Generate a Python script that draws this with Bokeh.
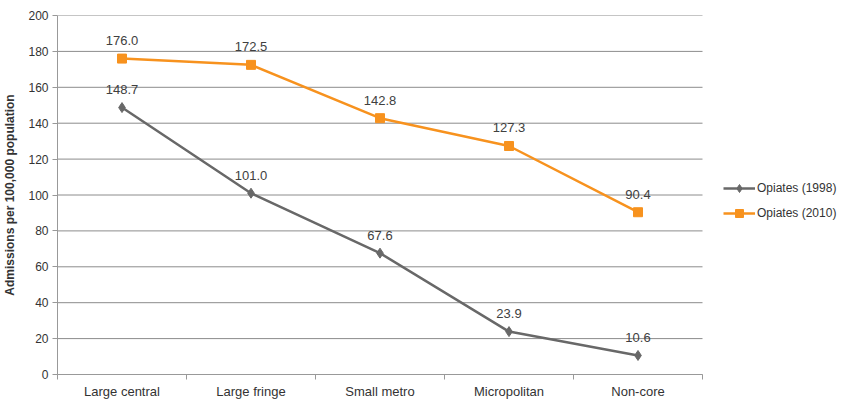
from bokeh.plotting import figure
from bokeh.models import FixedTicker, Range1d, Legend, LegendItem, ColumnDataSource
from bokeh.embed import file_html
from bokeh.resources import INLINE
from bokeh.core.properties import value

categories = ["Large central", "Large fringe", "Small metro", "Micropolitan", "Non-core"]
opiates_1998 = [148.7, 101.0, 67.6, 23.9, 10.6]
opiates_2010 = [176.0, 172.5, 142.8, 127.3, 90.4]
y_ticks = [0, 20, 40, 60, 80, 100, 120, 140, 160, 180, 200]

FONT = "Liberation Sans"
GRAY = "#686868"
ORANGE = "#F7921E"
GRID = "#8C8C8C"
AXIS = "#999999"

# plotting area is 645px wide; the frame extends further right to hold the legend
PLOT_W = 645
FRAME_W = 782
n = len(categories)
x_end = n * FRAME_W / PLOT_W

xs = [i + 0.5 for i in range(n)]

p = figure(frame_width=FRAME_W, frame_height=359, output_backend="svg", toolbar_location=None,
           x_range=Range1d(0, x_end), y_range=Range1d(0, 200),
           min_border_left=53, min_border_right=0, min_border_top=15, min_border_bottom=22)
p.outline_line_color = None
p.xgrid.grid_line_color = None
p.ygrid.grid_line_color = None

# horizontal gridlines limited to the category area
p.segment(x0=[0] * len(y_ticks), x1=[n] * len(y_ticks), y0=y_ticks, y1=y_ticks,
          line_color=GRID, line_width=1)

src98 = ColumnDataSource(dict(x=xs, y=opiates_1998, lab=[f"{v:.1f}" for v in opiates_1998]))
src10 = ColumnDataSource(dict(x=xs, y=opiates_2010, lab=[f"{v:.1f}" for v in opiates_2010]))

l1 = p.line("x", "y", source=src98, line_color=GRAY, line_width=2.5)
m1 = p.scatter("x", "y", source=src98, marker="diamond", size=10, fill_color=GRAY, line_color=GRAY)
l2 = p.line("x", "y", source=src10, line_color=ORANGE, line_width=2.5)
m2 = p.scatter("x", "y", source=src10, marker="square", size=9, fill_color=ORANGE, line_color=ORANGE)

for s in (src98, src10):
    p.text("x", "y", text="lab", source=s, text_align="center", text_baseline="middle",
           y_offset=-18, text_font=value(FONT), text_font_size="13px", text_color="#404040")

# x axis
p.xaxis.bounds = (0, n)
p.xaxis.ticker = FixedTicker(ticks=xs, minor_ticks=list(range(n + 1)))
p.xaxis.major_label_overrides = {x: c for x, c in zip(xs, categories)}
p.xaxis.major_tick_out = 0
p.xaxis.major_tick_in = 0
p.xaxis.minor_tick_out = 5
p.xaxis.minor_tick_in = 0
p.xaxis.minor_tick_line_color = AXIS
p.xaxis.axis_line_color = AXIS
p.xaxis.major_label_standoff = 4
p.xaxis.major_label_text_font = FONT
p.xaxis.major_label_text_font_size = "13px"
p.xaxis.major_label_text_color = "#333333"

# y axis
p.yaxis.ticker = FixedTicker(ticks=y_ticks)
p.yaxis.minor_tick_line_color = None
p.yaxis.major_tick_out = 5
p.yaxis.major_tick_in = 0
p.yaxis.major_tick_line_color = AXIS
p.yaxis.axis_line_color = AXIS
p.yaxis.major_label_text_font = FONT
p.yaxis.major_label_text_font_size = "12px"
p.yaxis.major_label_text_color = "#333333"
p.yaxis.major_label_standoff = 4
p.yaxis.axis_label = "Admissions per 100,000 population"
p.yaxis.axis_label_text_font = FONT
p.yaxis.axis_label_text_font_size = "12px"
p.yaxis.axis_label_text_font_style = "bold"
p.yaxis.axis_label_text_color = "#333333"
p.yaxis.axis_label_standoff = 8

legend = Legend(items=[LegendItem(label="Opiates (1998)", renderers=[l1, m1]),
                       LegendItem(label="Opiates (2010)", renderers=[l2, m2])],
                location=(666, 151), border_line_color=None, background_fill_alpha=0,
                label_text_font=FONT, label_text_font_size="12px", label_text_color="#333333",
                glyph_width=32, spacing=5, padding=2, margin=0, label_standoff=2)
p.add_layout(legend, "center")

open("out.html", "w").write(file_html(p, INLINE))
